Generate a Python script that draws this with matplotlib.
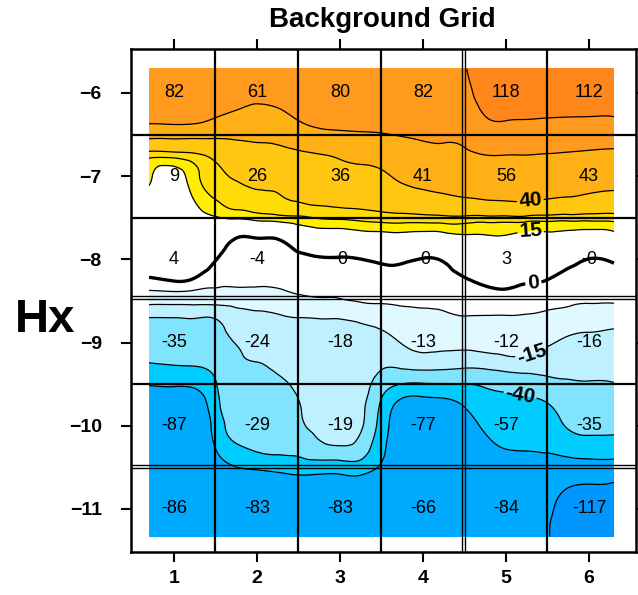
import numpy as np
import matplotlib
matplotlib.use("Agg")
import matplotlib.pyplot as plt
from matplotlib.tri import Triangulation, UniformTriRefiner, CubicTriInterpolator

plt.rcParams["font.family"] = ["Liberation Sans", "DejaVu Sans"]
plt.rcParams["contour.negative_linestyle"] = "solid"

# cell centres and the numbers printed in each cell
cols = [1, 2, 3, 4, 5, 6]
rows = [-6, -7, -8, -9, -10, -11]
cell_text = [
    ["82", "61", "80", "82", "118", "112"],
    ["9", "26", "36", "41", "56", "43"],
    ["4", "-4", "-0", "-0", "3", "-0"],
    ["-35", "-24", "-18", "-13", "-12", "-16"],
    ["-87", "-29", "-19", "-77", "-57", "-35"],
    ["-86", "-83", "-83", "-66", "-84", "-117"],
]

# sample positions of the background field
field_x = [0.7, 1.0, 1.25, 1.5, 1.75, 2.0, 2.25, 2.5, 2.75, 3.0, 3.25, 3.5,
           3.75, 4.0, 4.25, 4.5, 4.75, 5.0, 5.25, 5.5, 5.75, 6.0, 6.3]
field_y = [-5.71, -6.0, -6.25, -6.5, -6.75, -7.0, -7.25, -7.5, -7.75, -8.0,
           -8.25, -8.5, -8.75, -9.0, -9.25, -9.5, -9.75, -10.0, -10.25,
           -10.5, -10.75, -11.0, -11.33]

# one list per x column, from top (y=-5.71) to bottom (y=-11.33)
field_cols = [
    [84, 80, 70, 46, 21.7, 16.6, 12, 9, 6, 3, -0.8, -12, -27.5, -33.7, -40.3, -58.5, -80, -87, -88, -87, -86, -86, -86],
    [84, 82, 72, 46, 22, 12, 10, 8, 6, 3.5, 0.3, -12, -27.5, -33.5, -39, -57, -80, -87, -88, -87, -86, -86, -86],
    [82, 78, 70, 45.5, 23.6, 18.4, 15.8, 12, 8, 4, -0.7, -12, -27, -33, -38.5, -55, -78, -86, -87, -86, -85, -85, -85],
    [75, 72, 63, 44, 27.5, 23, 20.5, 14.5, 6, 0.2, -3, -12, -26.5, -30.5, -35, -41, -46, -52, -59, -72, -80, -84, -85],
    [68, 65, 58, 43, 34.2, 26.5, 22.3, 15.8, -0.3, -1.5, -2, -12.1, -19, -24.5, -27, -29, -31, -34, -42, -60.5, -76, -82, -83],
    [68, 64, 55, 43.6, 35.7, 29.3, 23.5, 17.3, -0.3, -1.5, -2.5, -11.3, -17.7, -21.5, -25.2, -27, -29, -31, -36, -57, -76, -82, -83],
    [70, 66, 56.7, 44.8, 36.4, 30.3, 24.4, 18.2, 0.3, -1.5, -2.5, -10, -17, -20, -23.4, -26, -28, -30, -34, -54, -75, -82, -83],
    [74, 70, 64, 49.7, 37.9, 32, 26.2, 19.1, 6, -1.2, -2, -7.7, -16.3, -18.6, -21, -23.3, -25.5, -27, -35, -50, -76, -82, -83],
    [80, 78, 70, 54.7, 39.3, 33.4, 27.6, 20.4, 8.6, -0.6, -2.2, -6.5, -16, -17, -18, -19, -20, -22, -28, -50, -76, -82, -83],
    [82, 80, 72, 56.5, 41.8, 34.6, 28.4, 20.8, 8.7, -0.6, -2.5, -6, -16, -17.5, -18.5, -19, -19.5, -20.5, -25.5, -50, -76, -82, -83],
    [82, 80, 72, 57.8, 44.3, 35.6, 29.1, 21.5, 10.3, -0.1, -2.4, -4.5, -14.5, -17.5, -18.5, -20, -22.5, -23.5, -30, -49, -76, -82, -83],
    [82, 81, 72, 59, 47, 37.2, 30.2, 22.3, 11, 1.2, -2, -4.2, -12.2, -18.3, -22.8, -32, -43, -48, -54, -63, -77, -82, -83],
    [82, 81, 73, 61, 52, 43.4, 33.4, 22.7, 11.5, 1.2, -2, -4.1, -8.6, -14.5, -21.8, -40.5, -68, -76, -74, -70, -68, -67, -67],
    [84, 82, 74, 63, 53.7, 45.7, 36.1, 23, 10.7, -0.4, -2.2, -4, -7.3, -12.1, -20, -41.3, -70, -78, -76, -72, -68, -66, -66],
    [86, 84, 76, 64, 55.2, 47.1, 38.1, 23.5, 11.7, 0.8, -1.5, -3.7, -6.7, -12.2, -20.7, -40.8, -67.6, -76, -75, -72, -70, -68, -68],
    [98, 92, 80, 66, 57, 48.7, 40.3, 23.6, 13.5, 5, -0.5, -3, -6.25, -12.5, -21.5, -40.3, -58.5, -70, -76, -77, -78, -76, -75],
    [116, 112, 102, 81.8, 59.7, 51, 42.4, 23.3, 14.2, 7.8, 1.3, -2.6, -6.4, -12, -20.7, -37.6, -47.7, -56.5, -66, -74, -78, -80, -80],
    [122, 118, 106, 85.3, 59.7, 51.6, 43.5, 23.3, 14.3, 8.1, 2, -2.4, -6.4, -11.4, -18.9, -35, -44.9, -51.8, -58.6, -72, -80, -84, -85],
    [120, 117, 105, 83.4, 59.7, 51.9, 44, 23.2, 13, 7.5, 0.8, -2.8, -6.8, -11.7, -18.6, -32.9, -44, -50.8, -57.6, -70, -80, -86, -88],
    [116, 115, 104, 80.5, 58.6, 50.2, 41.7, 22.7, 13.1, 6.4, -0.1, -3.3, -7.9, -13.8, -20.4, -29, -41, -48.6, -56.3, -70, -85, -95, -98],
    [112, 112, 103, 79, 57.5, 48.8, 40, 22.3, 11.9, 3.4, -2.5, -4, -10, -16.9, -21.5, -26.4, -32.4, -38.3, -51.2, -72.2, -100.5, -110, -115],
    [112, 112, 103, 76.7, 56.5, 47.7, 37.75, 22.1, 9.9, -0.2, -2.2, -4.3, -11.5, -17.6, -21.6, -25.8, -31.1, -36.4, -47, -72.9, -105, -115, -118],
    [110, 110, 103, 75.3, 55.7, 46.8, 36.1, 22.3, 11.4, 1.2, -1.8, -4.2, -12.7, -17.9, -21.6, -25.4, -31, -36.5, -47.2, -73, -108, -116, -118],
]

# contour levels and band colours
fill_levels = [-1000, -100, -60, -40, -25, -15, -5, 15, 20, 25, 40, 60, 100, 1000]
fill_colors = ["#0096ff", "#00aaff", "#00ccff", "#80e4ff", "#bff0ff", "#e0f8ff",
               "#ffffff", "#ffee00", "#ffdc08", "#ffc710", "#ffb014", "#ff9a1e",
               "#ff861a"]
plain_levels = [-100, -60, -25, -5, 20, 25, 60, 100]
labelled_levels = [-40, -15, 15, 40]

Z = np.array(field_cols).T
X, Y = np.meshgrid(field_x, field_y)

# smooth the sampled field with matplotlib's triangulation refiner
tri = Triangulation(X.ravel(), Y.ravel())
interp = CubicTriInterpolator(tri, Z.ravel(), kind="min_E")
tri_f, z_f = UniformTriRefiner(tri).refine_field(Z.ravel(), triinterpolator=interp, subdiv=3)

fig = plt.figure(figsize=(6.38, 5.95), dpi=100)
ax = fig.add_axes([0.2053, 0.0723, 0.7915, 0.8454])

# filled bands and thin contour lines
ax.tricontourf(tri_f, z_f, levels=fill_levels, colors=fill_colors, zorder=1)
ax.tricontour(tri_f, z_f, levels=plain_levels, colors="black", linewidths=0.9, zorder=2)
cs = ax.tricontour(tri_f, z_f, levels=labelled_levels, colors="black", linewidths=0.9, zorder=2)
cs0 = ax.tricontour(tri_f, z_f, levels=[0], colors="black", linewidths=2.4, zorder=2)

# labels on a few of the contours
lab = cs.clabel(fmt="%d", fontsize=15, inline=True, inline_spacing=3,
                manual=[(5.17, -9.63), (5.3, -9.11), (5.3, -7.68), (5.3, -7.35)])
lab += cs0.clabel(fmt="%d", fontsize=15, inline=True, inline_spacing=3,
                  manual=[(5.33, -8.28)])
for t in lab:
    t.set_fontweight("bold")

# numbers in each cell
for i, r in enumerate(rows):
    for j, c in enumerate(cols):
        ax.text(c, r, cell_text[i][j], ha="center", va="center",
                fontsize=13, zorder=4)

# background grid (some lines are doubled)
for gx in [1.5, 2.5, 3.5, 5.5]:
    ax.axvline(gx, color="black", lw=1.6, zorder=3)
for gx in [4.475, 4.51]:
    ax.axvline(gx, color="black", lw=1.0, zorder=3)
for gy in [-6.5, -7.5, -9.5]:
    ax.axhline(gy, color="black", lw=1.6, zorder=3)
for gy in [-8.44, -8.48, -10.47, -10.51]:
    ax.axhline(gy, color="black", lw=1.0, zorder=3)

ax.set_xlim(0.482, 6.566)
ax.set_ylim(-11.517, -5.471)
ax.set_xticks(cols)
ax.set_yticks(rows)
ax.tick_params(direction="out", length=7, width=1.5, top=True, right=True,
               labelsize=14)
ax.tick_params(axis="y", pad=14)
ax.tick_params(axis="x", pad=6)
for lbl in ax.get_xticklabels() + ax.get_yticklabels():
    lbl.set_fontweight("bold")
for s in ax.spines.values():
    s.set_linewidth(1.8)

fig.text(0.0705, 0.462, "Hx", fontsize=34, fontweight="bold", ha="center", va="center")
fig.text(0.6, 0.966, "Background Grid", fontsize=20, fontweight="bold",
         ha="center", va="center")

plt.savefig("out.png", dpi=100)
